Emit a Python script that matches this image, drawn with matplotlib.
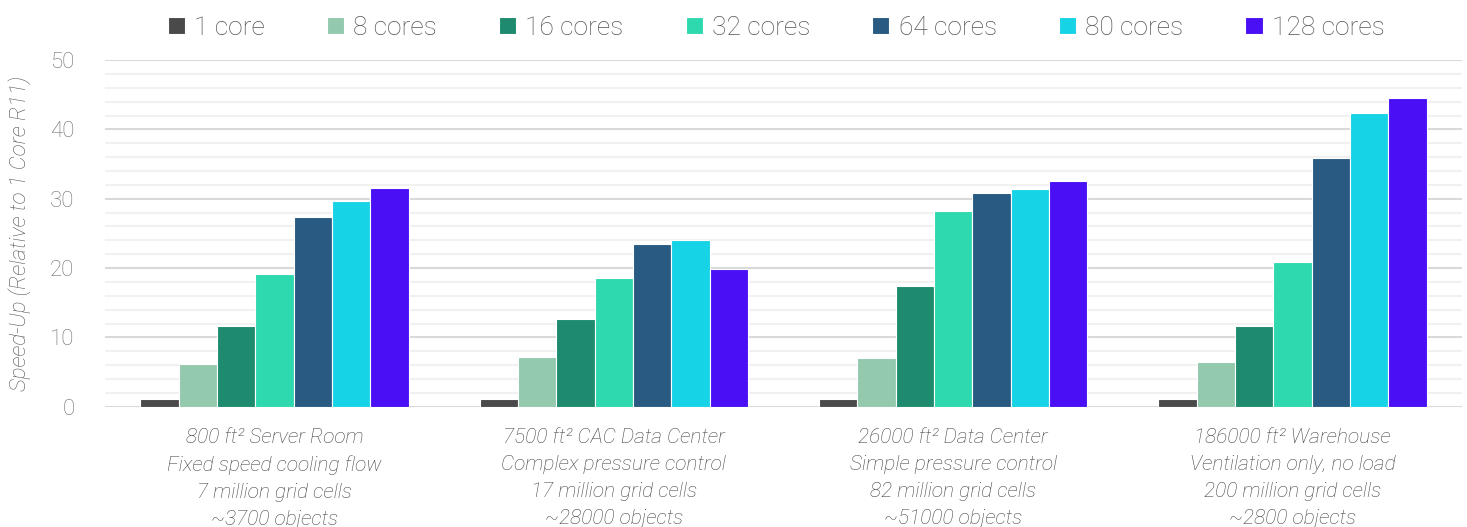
import numpy as np
import matplotlib
matplotlib.use("Agg")
import matplotlib.pyplot as plt
from matplotlib.ticker import MultipleLocator

plt.rcParams['font.family'] = ['Roboto', 'DejaVu Sans']

# chart data
groups = [
    "800 ft² Server Room\nFixed speed cooling flow\n7 million grid cells\n~3700 objects",
    "7500 ft² CAC Data Center\nComplex pressure control\n17 million grid cells\n~28000 objects",
    "26000 ft² Data Center\nSimple pressure control\n82 million grid cells\n~51000 objects",
    "186000 ft² Warehouse\nVentilation only, no load\n200 million grid cells\n~2800 objects",
]
series = ["1 core", "8 cores", "16 cores", "32 cores", "64 cores", "80 cores", "128 cores"]
core_1 = [1.1, 1.1, 1.1, 1.1]
core_8 = [6.2, 7.1, 7.0, 6.5]
core_16 = [11.6, 12.6, 17.4, 11.6]
core_32 = [19.2, 18.6, 28.3, 20.8]
core_64 = [27.3, 23.4, 30.8, 35.9]
core_80 = [29.6, 24.1, 31.4, 42.3]
core_128 = [31.5, 19.8, 32.6, 44.6]
values = [core_1, core_8, core_16, core_32, core_64, core_80, core_128]
colors = ["#4a4a4a", "#93c9ad", "#1e8a6e", "#2fd9b0", "#285a82", "#17d3e6", "#4a0ff5"]

fig = plt.figure(figsize=(14.67, 5.27), dpi=100)
ax = fig.add_axes([0.0716, 0.2283, 0.925, 0.6577])

x = np.arange(len(groups))
slot = 0.113
for i, (name, vals) in enumerate(zip(series, values)):
    ax.bar(x + (i - 3) * slot, vals, slot, color=colors[i], edgecolor="white",
           linewidth=0.8, label=name, zorder=3)

ax.set_xlim(-0.5, 3.5)
ax.set_ylim(0, 50)
ax.yaxis.set_major_locator(MultipleLocator(10))
ax.yaxis.set_minor_locator(MultipleLocator(2))
ax.grid(axis="y", which="major", color="#d9d9d9", linewidth=1.5, zorder=0)
ax.grid(axis="y", which="minor", color="#f1f1f1", linewidth=1.5, zorder=0)
for s in ax.spines.values():
    s.set_visible(False)

ax.set_xticks(x)
ax.set_xticklabels(groups, fontsize=15, style="italic", color="#444444",
                   fontweight="light", linespacing=1.55)
ax.tick_params(axis="x", length=0, pad=15)
ax.tick_params(axis="y", which="both", length=0, pad=22, labelsize=16, labelcolor="#6f6f6f")
for t in ax.get_yticklabels():
    t.set_fontweight("light")

ax.set_ylabel("Speed-Up (Relative to 1 Core R11)", fontsize=16, style="italic",
              color="#555555", fontweight="light", labelpad=14)

leg = fig.legend(loc="center", bbox_to_anchor=(0.529, 0.947), ncol=7, frameon=False,
                 fontsize=19, handlelength=0.65, handleheight=0.65, handletextpad=0.35,
                 columnspacing=2.35)
for t in leg.get_texts():
    t.set_color("#555555")
    t.set_fontweight("light")

fig.savefig("out.png", dpi=100)
